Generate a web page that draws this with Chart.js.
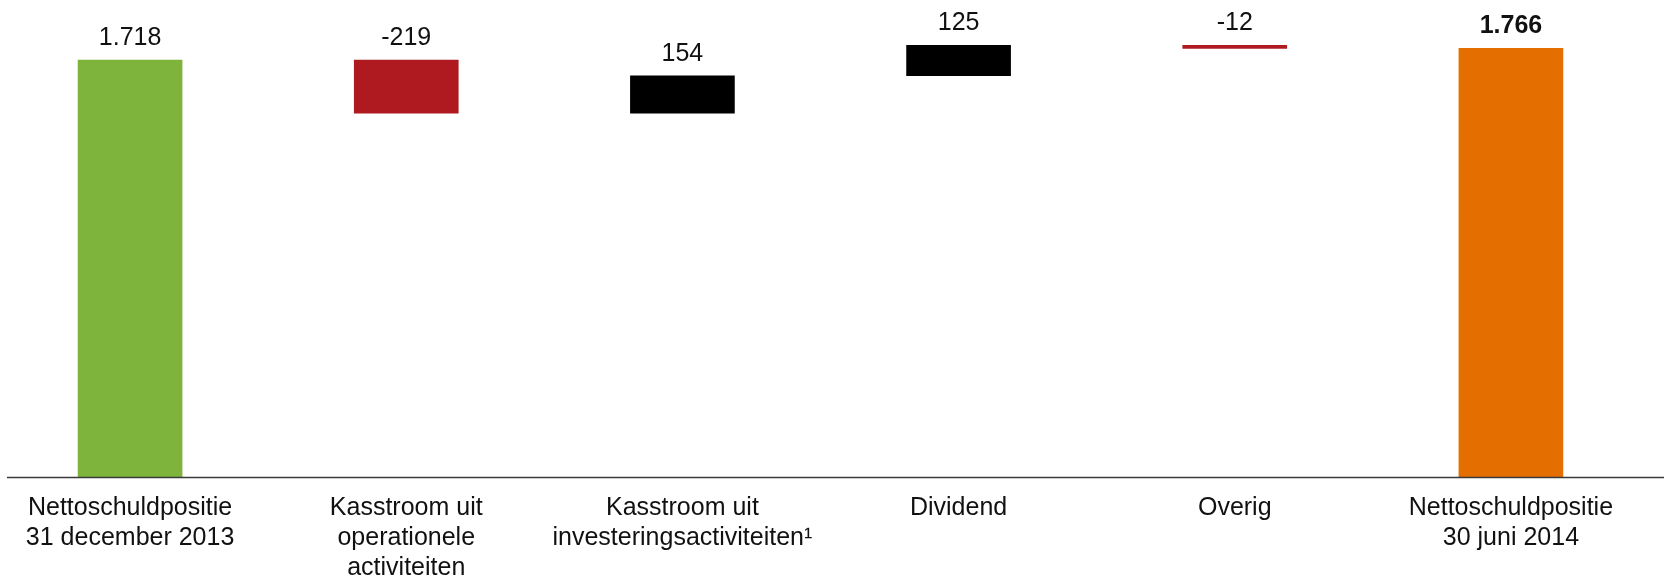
<!DOCTYPE html>
<html>
<head>
<meta charset="utf-8">
<script src="https://cdn.jsdelivr.net/npm/chart.js@4"></script>
<style>
  html, body { margin: 0; padding: 0; background: #fff; overflow: hidden; }
  .wrap { position: absolute; left: -8px; top: 0; width: 1672px; height: 599px; }
</style>
</head>
<body>
<div class="wrap"><canvas id="waterfall"></canvas></div>
<script>
// net debt bridge, values in EUR mln
const categories = [
  ['Nettoschuldpositie', '31 december 2013'],
  ['Kasstroom uit', 'operationele', 'activiteiten'],
  ['Kasstroom uit', 'investeringsactiviteiten\u00B9'],
  'Dividend',
  'Overig',
  ['Nettoschuldpositie', '30 juni 2014']
];
const startValue = 1718;
const changes = [-219, 154, 125, -12];
const endValue = 1766;

// build floating bars [from, to]
const ranges = [[0, startValue]];
const shown = [startValue];
let running = startValue;
changes.forEach(c => {
  ranges.push([running, running + c]);
  shown.push(c);
  running += c;
});
ranges.push([0, endValue]);
shown.push(endValue);

const colors = ranges.map((r, i) => {
  if (i === 0) return '#7FB43C';
  if (i === ranges.length - 1) return '#E46F00';
  return shown[i] < 0 ? '#AF1A21' : '#000000';
});

function fmt(v) {
  const s = Math.abs(v).toString().replace(/\B(?=(\d{3})+(?!\d))/g, '.');
  return (v < 0 ? '-' : '') + s;
}

const fontFamily = '"Liberation Sans", Arial, sans-serif';

const valueLabels = {
  id: 'valueLabels',
  afterDatasetsDraw(chart) {
    const ctx = chart.ctx;
    const meta = chart.getDatasetMeta(0);
    ctx.save();
    ctx.fillStyle = '#111';
    ctx.textAlign = 'center';
    ctx.textBaseline = 'alphabetic';
    meta.data.forEach((bar, i) => {
      const top = Math.min(bar.y, bar.base);
      const last = i === meta.data.length - 1;
      ctx.font = (last ? 'bold ' : '') + '25px ' + fontFamily;
      ctx.fillText(fmt(shown[i]), bar.x, top - 15);
    });
    ctx.restore();
  }
};

const baseLine = {
  id: 'baseLine',
  afterDatasetsDraw(chart) {
    const ctx = chart.ctx;
    const y = Math.round(chart.scales.y.getPixelForValue(0)) + 0.5;
    ctx.save();
    ctx.strokeStyle = '#3a3a3a';
    ctx.lineWidth = 1.5;
    ctx.beginPath();
    ctx.moveTo(15, y);
    ctx.lineTo(chart.width, y);
    ctx.stroke();
    ctx.restore();
  }
};

new Chart(document.getElementById('waterfall'), {
  type: 'bar',
  data: {
    labels: categories,
    datasets: [{
      data: ranges,
      backgroundColor: colors,
      borderWidth: 0,
      barThickness: 104
    }]
  },
  options: {
    responsive: true,
    maintainAspectRatio: false,
    animation: false,
    layout: { padding: { left: 0, right: 15, top: 0, bottom: 0 } },
    plugins: {
      legend: { display: false },
      tooltip: { enabled: false }
    },
    scales: {
      x: {
        grid: { display: false, drawTicks: false },
        border: { display: false },
        ticks: {
          color: '#111',
          font: { family: fontFamily, size: 25, lineHeight: 1.2 },
          padding: 16,
          maxRotation: 0,
          autoSkip: false
        }
      },
      y: {
        display: false,
        min: 0,
        max: 1965
      }
    }
  },
  plugins: [valueLabels, baseLine]
});
</script>
</body>
</html>
